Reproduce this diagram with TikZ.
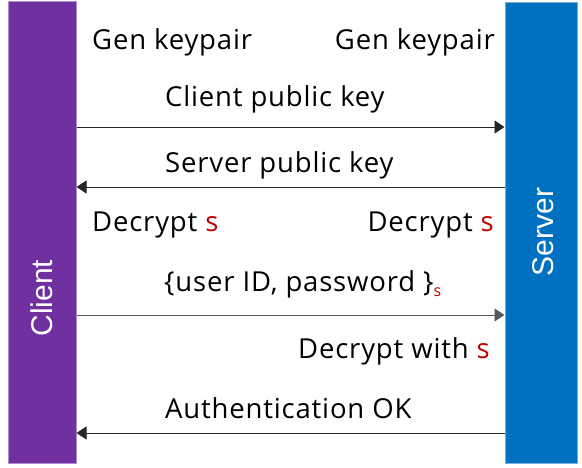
\documentclass[tikz,border=0pt]{standalone}
\usepackage{fontspec}
\setmainfont[LetterSpace=3]{Open Sans}
\newfontfamily\barfont{Liberation Sans}
\usetikzlibrary{arrows.meta}
\definecolor{cpurple}{HTML}{7030A0}
\definecolor{cblue}{HTML}{0070C0}
\definecolor{cred}{HTML}{C00000}
\newcommand{\rs}{\textcolor{cred}{s}}
\begin{document}
\begin{tikzpicture}[x=1pt,y=-1pt,
  lbl/.style={inner sep=0pt, font=\fontsize{27.5}{30}\selectfont},
  msg/.style={draw=black!85, line width=0.9pt, -{Triangle[length=10pt,width=13pt]}},
  bar/.style={inner sep=0pt, minimum width=68pt, minimum height=461pt, line width=1pt},
  bartext/.style={inner sep=0pt, rotate=90, text=white, font=\barfont\fontsize{30}{34}\selectfont}]
\useasboundingbox (0,0) rectangle (582,468);
\node[bar, fill=cpurple, draw=cpurple!55!white] (client) at (42,232.5) {};
\node[bar, minimum width=72pt, fill=cblue, draw=cblue!55!white] (server) at (541,233) {};
\node[bartext] (clientlbl) at (41.5,298) {Client};
\node[bartext] (serverlbl) at (543,232) {Server};
\node[lbl, anchor=base west] (gk1) at (92,50) {Gen keypair};
\node[lbl, anchor=base east] (gk2) at (495,50) {Gen keypair};
\node[lbl, anchor=base west] (cpk) at (165,107) {Client public key};
\node[lbl, anchor=base west] (spk) at (165,173) {Server public key};
\node[lbl, anchor=base west] (dc1) at (92,232) {Decrypt \rs};
\node[lbl, anchor=base east] (dc2) at (494,232) {Decrypt \rs};
\node[lbl, anchor=base west] (uid) at (164,292) {\{user ID, password \}\raisebox{-5pt}{\fontsize{16}{18}\selectfont\rs}};
\node[lbl, anchor=base east] (dws) at (490,359) {Decrypt with \rs};
\node[lbl, anchor=base west] (auth) at (165,418) {Authentication OK};
\coordinate (y1) at (0,127);
\coordinate (y2) at (0,187);
\coordinate (y3) at (0,315);
\coordinate (y4) at (0,433);
\draw[msg] (client.east |- y1) -- (server.west |- y1);
\draw[msg] (server.west |- y2) -- (client.east |- y2);
\draw[msg, draw=black!65] (client.east |- y3) -- (server.west |- y3);
\draw[msg] (server.west |- y4) -- (client.east |- y4);
\end{tikzpicture}
\end{document}
